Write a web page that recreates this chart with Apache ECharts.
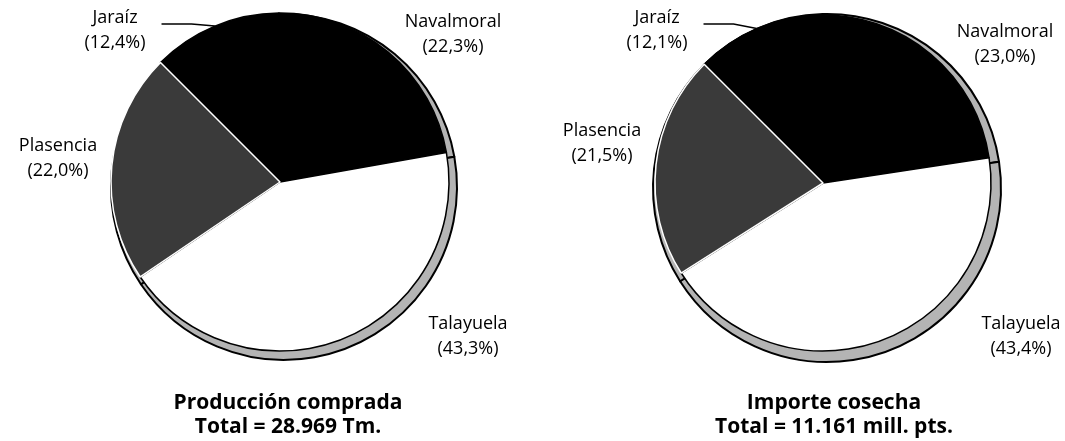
<!DOCTYPE html>
<html>
<head>
<meta charset="utf-8">
<script src="https://cdn.jsdelivr.net/npm/echarts@6/dist/echarts.min.js"></script>
<style>
  html, body { margin: 0; padding: 0; background: #fff; }
  #main { width: 1065px; height: 441px; }
</style>
</head>
<body>
<div id="main"></div>
<script>
// datos (% sobre el total)
var zonas = ['Jaraíz', 'Navalmoral', 'Talayuela', 'Plasencia'];
var produccion = [12.4, 22.3, 43.3, 22.0];
var importe = [12.1, 23.0, 43.4, 21.5];
var titulos = [
  'Producción comprada\nTotal = 28.969 Tm.',
  'Importe cosecha\nTotal = 11.161 mill. pts.'
];

var colores = ['#000', '#000', '#fff', '#3a3a3a'];
var bordes = ['#000', '#000', '#000', '#fff'];

// posiciones de las etiquetas (centro del texto)
var posEtiquetas = [
  [[115, 30], [453, 34], [468, 336], [58, 158]],
  [[657, 30], [1005, 44], [1021, 336], [602, 143]]
];

var FONT = '"Open Sans", "Noto Sans", sans-serif';

function fmt(v) {
  return v.toFixed(1).replace('.', ',');
}

function pieData(values) {
  return zonas.map(function (z, i) {
    return {
      name: z,
      value: values[i],
      itemStyle: { color: colores[i], borderColor: bordes[i] },
      labelLine: { show: i === 0 }
    };
  });
}

function mainPie(values, center, r, k) {
  return {
    type: 'pie',
    z: 3,
    center: center,
    radius: r,
    startAngle: 135,
    clockwise: true,
    animation: false,
    avoidLabelOverlap: false,
    itemStyle: { borderWidth: 1.5 },
    label: {
      show: true,
      position: 'outside',
      color: '#000',
      fontFamily: FONT,
      fontSize: 18,
      lineHeight: 25,
      formatter: function (p) { return p.name + '\n(' + fmt(p.value) + '%)'; }
    },
    labelLine: { show: false, lineStyle: { color: '#000', width: 1.5 } },
    labelLayout: function (p) {
      var pos = posEtiquetas[k][p.dataIndex];
      var out = { x: pos[0], y: pos[1], align: 'center', verticalAlign: 'middle' };
      if (p.dataIndex === 0 && p.labelLinePoints) {
        var a = p.labelLinePoints[0];
        var w = p.labelRect.width;
        var yl = pos[1] - 6;
        var xEnd = pos[0] + w / 2 + 16;
        out.labelLinePoints = [a, [xEnd + 30, yl], [xEnd, yl]];
      }
      return out;
    },
    data: pieData(values)
  };
}

// borde "3D" desplazado por debajo
function rimPie(values, center, r) {
  return {
    type: 'pie',
    z: 1,
    silent: true,
    center: center,
    radius: r,
    startAngle: 135,
    animation: false,
    label: { show: false },
    labelLine: { show: false },
    itemStyle: { color: '#b4b4b4', borderColor: '#000', borderWidth: 2 },
    data: zonas.map(function (z, i) { return { name: z, value: values[i] }; })
  };
}

var chart = echarts.init(document.getElementById('main'));
chart.setOption({
  backgroundColor: '#fff',
  title: [
    {
      text: titulos[0], left: 283, top: 386, textAlign: 'center',
      textStyle: { fontFamily: FONT, fontSize: 21, fontWeight: 'bold', color: '#000', lineHeight: 24 }
    },
    {
      text: titulos[1], left: 829, top: 386, textAlign: 'center',
      textStyle: { fontFamily: FONT, fontSize: 21, fontWeight: 'bold', color: '#000', lineHeight: 24 }
    }
  ],
  series: [
    rimPie(produccion, [284, 187], 173),
    mainPie(produccion, [280, 182], 169, 0),
    rimPie(importe, [827, 188], 174),
    mainPie(importe, [823, 183], 168, 1)
  ]
});
</script>
</body>
</html>
